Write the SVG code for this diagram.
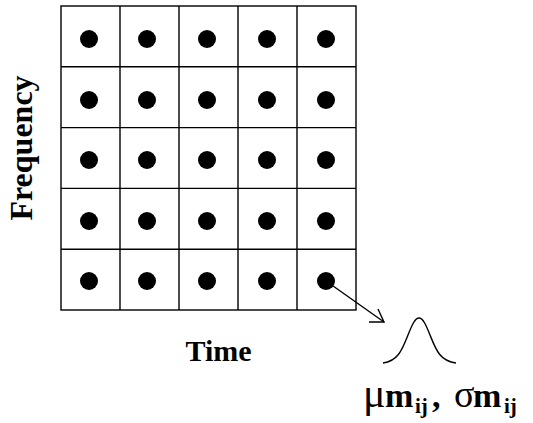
<svg xmlns="http://www.w3.org/2000/svg" width="533" height="423" viewBox="0 0 533 423">
<style>
.grid{fill:none;stroke:#000;stroke-width:1.4}
.dot{fill:#000}
.lbl{font-family:"Liberation Serif","Times New Roman",serif;font-weight:bold;fill:#000}
.conn{fill:none;stroke:#000;stroke-width:1.4}
</style>
<rect width="533" height="423" fill="#fff"/>
<g id="grid" class="grid">
<rect x="61" y="6" width="295" height="304"/>
<path d="M120 6V310M179 6V310M238 6V310M297 6V310M61 66.8H356M61 127.6H356M61 188.4H356M61 249.2H356"/>
</g>
<g id="dots" class="dot">
<g id="r1"><circle cx="89" cy="39" r="9"/><circle cx="147" cy="39" r="9"/><circle cx="207" cy="39" r="9"/><circle cx="267" cy="39" r="9"/><circle cx="326" cy="39" r="9"/></g>
<g id="r2"><circle cx="89" cy="100" r="9"/><circle cx="147" cy="100" r="9"/><circle cx="207" cy="100" r="9"/><circle cx="267" cy="100" r="9"/><circle cx="326" cy="100" r="9"/></g>
<g id="r3"><circle cx="89" cy="160" r="9"/><circle cx="147" cy="160" r="9"/><circle cx="207" cy="160" r="9"/><circle cx="267" cy="160" r="9"/><circle cx="326" cy="160" r="9"/></g>
<g id="r4"><circle cx="89" cy="221" r="9"/><circle cx="147" cy="221" r="9"/><circle cx="207" cy="221" r="9"/><circle cx="267" cy="221" r="9"/><circle cx="326" cy="221" r="9"/></g>
<g id="r5"><circle cx="89" cy="281" r="9"/><circle cx="147" cy="281" r="9"/><circle cx="207" cy="281" r="9"/><circle cx="267" cy="281" r="9"/><circle cx="326" cy="281" r="9"/></g>
</g>
<g id="connectors" class="conn">
<path d="M326 281L384 322"/>
<path d="M378 309L384 322L369 322"/>
</g>
<g id="gaussian">
<path class="conn" d="M383 363C398 361 402 350 408 335C412 325 415 318 419 318C423 318 426 325 430 335C436 350 440 361 456 363"/>
</g>
<g id="label-frequency">
<text class="lbl" font-size="32" text-anchor="middle" transform="translate(32 148) rotate(-90)">Frequency</text>
</g>
<g id="label-time">
<text class="lbl" font-size="30" text-anchor="middle" x="218.5" y="361">Time</text>
</g>
<g id="label-params">
<text class="lbl" font-size="34"><tspan x="363" y="407" font-weight="normal" font-size="42">μ</tspan><tspan x="385" y="407">m</tspan><tspan x="415" y="413" font-size="21">ij</tspan><tspan x="432" y="407">,</tspan><tspan x="454" y="407" font-weight="normal" font-size="38">σ</tspan><tspan x="473" y="407">m</tspan><tspan x="504" y="413" font-size="21">ij</tspan></text>
</g>
</svg>
